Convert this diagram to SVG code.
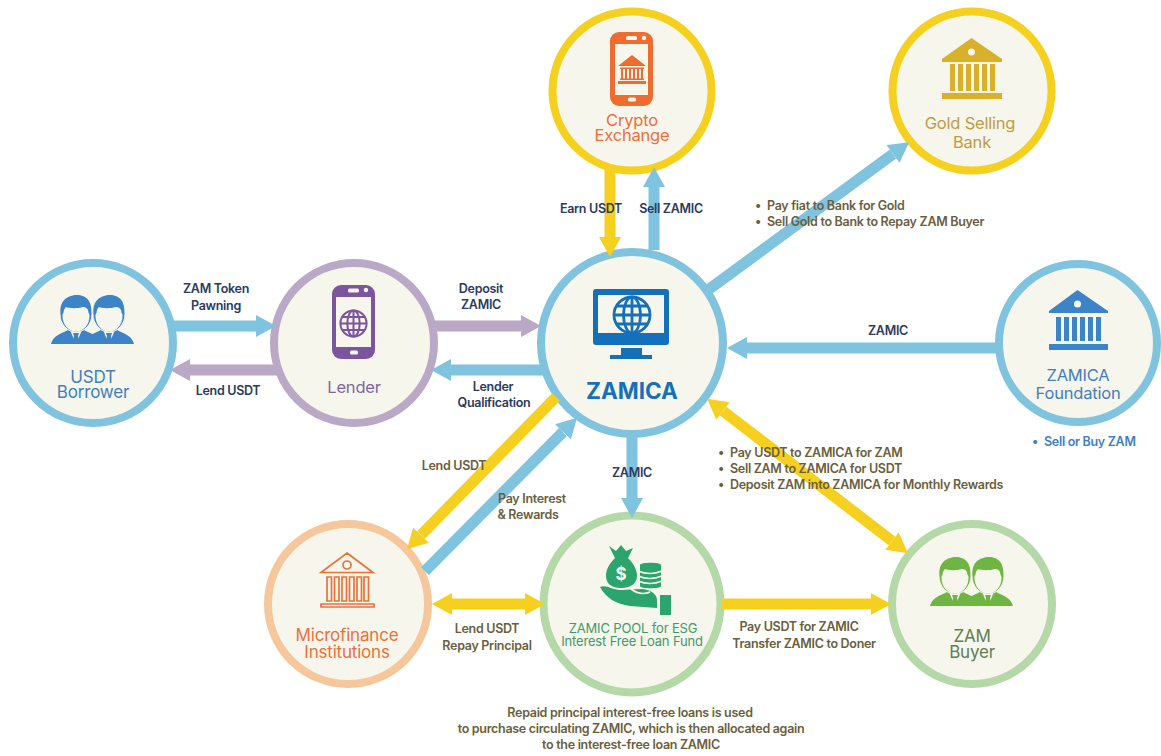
<svg xmlns="http://www.w3.org/2000/svg" width="1161" height="756" viewBox="0 0 1161 756">
<style>
text{font-family:Inter,"Noto Sans","Liberation Sans",sans-serif;text-anchor:middle}
.ring{fill:#F7F6EC;stroke-width:8}
.n{font-size:16.500px;letter-spacing:-.2px}
.l{font-size:12.500px;font-weight:600;letter-spacing:-.3px}
.navy{fill:#2A3A5F}
.ol{fill:#6A5E3C}
.st{text-anchor:start}
.c{fill:none;stroke-width:11}
.b{stroke:#7FC3DE}.y{stroke:#F5D01E}.p{stroke:#B9A8C6}
</style>
<defs>
<marker id="hb" markerUnits="userSpaceOnUse" markerWidth="20" markerHeight="22" viewBox="0 0 20 22" refX="0" refY="11" orient="auto-start-reverse"><path d="M0 0L20 11L0 22Z" fill="#7FC3DE"/></marker>
<marker id="hy" markerUnits="userSpaceOnUse" markerWidth="20" markerHeight="22" viewBox="0 0 20 22" refX="0" refY="11" orient="auto-start-reverse"><path d="M0 0L20 11L0 22Z" fill="#F5D01E"/></marker>
<marker id="hp" markerUnits="userSpaceOnUse" markerWidth="20" markerHeight="22" viewBox="0 0 20 22" refX="0" refY="11" orient="auto-start-reverse"><path d="M0 0L20 11L0 22Z" fill="#B9A8C6"/></marker>
<symbol id="person" overflow="visible" viewBox="-25 0 50 50" width="50" height="50">
<path d="M-25 49C-23 41-16 39-8 35L0 38L8 35C16 39 23 41 25 49Z" fill="currentColor"/>
<path d="M-6 35L0 49L6 35Z" fill="#F7F6EC"/>
<path d="M-3 38H3L2 41L3.500 49H-3.500L-2 41Z" fill="currentColor"/>
<ellipse cx="0" cy="19" rx="16" ry="18" fill="currentColor" stroke="#F7F6EC" stroke-width="1"/>
<ellipse cx="0" cy="21" rx="13.500" ry="15.500" fill="#F7F6EC"/>
<path d="M-15 20C-18 6-8 0 1 0C10 0 17 6 15 20L12.500 18C12.500 14 10 12 7 12C0 14-8 13-10 12C-12 14-12.500 16-12.500 18Z" fill="currentColor"/>
</symbol>
<symbol id="globe" overflow="visible" viewBox="-20 -20 40 40" width="40" height="40">
<g fill="none" stroke="currentColor" stroke-width="2.800"><circle r="18"/><ellipse rx="8.500" ry="18"/><path d="M0-18V18M-18 0H18M-15.500-9H15.500M-15.500 9H15.500"/></g>
</symbol>
</defs>
<rect width="1161" height="756" fill="#fff"/>

<g id="node-crypto-exchange">
<circle class="ring" cx="632" cy="91" r="79.500" stroke="#F5D01E"/>
<rect x="610" y="32" width="43" height="74" rx="9" fill="#EE6C2F"/>
<rect x="615" y="44" width="33" height="51" fill="#F7F6EC"/>
<rect x="626" y="36" width="11" height="4" rx="1.500" fill="#F7F6EC"/><circle cx="644" cy="38" r="2.200" fill="#F7F6EC"/><rect x="628" y="97.500" width="8" height="4" rx="1.500" fill="#F7F6EC"/>
<path d="M632 55L646 66H618ZM618 81H646V84H618ZM620 67.500H644V69H620ZM620 78.500H644V80H620ZM621 69h2v10H621ZM625 69h2v10H625ZM629 69h2v10H629ZM633 69h2v10H633ZM637 69h2v10H637ZM641 69h2v10H641Z" fill="#EE6C2F"/>
<text class="n" x="632" y="126" fill="#EC6F3A">Crypto</text><text class="n" x="632" y="141" fill="#EC6F3A">Exchange</text>
</g>

<g id="node-gold-bank">
<circle class="ring" cx="972" cy="91" r="79.500" stroke="#F5D01E"/>
<path d="M971.500 38L1002 59V62H942V59ZM950 64h5v27h-5ZM958 64h5v27h-5ZM966 64h5v27h-5ZM974 64h5v27h-5ZM982 64h5v27h-5ZM990 64h5v27h-5ZM942 93h60v6h-60Z" fill="#D9B02A"/>
<circle cx="971.500" cy="52" r="3.500" fill="#F7F6EC"/>
<text class="n" x="970" y="129" fill="#BE9C46">Gold Selling</text><text class="n" x="972" y="148" fill="#BE9C46">Bank</text>
</g>

<g id="node-zamica-foundation">
<circle class="ring" cx="1078" cy="343" r="79" stroke="#7FC3DE"/>
<path d="M1077.500 290L1108 311V313H1049V311ZM1056 317h5v24h-5ZM1064 317h5v24h-5ZM1072 317h5v24h-5ZM1080 317h5v24h-5ZM1088 317h5v24h-5ZM1096 317h5v24h-5ZM1049 344h59v6h-59Z" fill="#3C84C7"/>
<circle cx="1077.500" cy="304" r="3.500" fill="#F7F6EC"/>
<text class="n" x="1078" y="381" fill="#3F7FBF">ZAMICA</text><text class="n" x="1078" y="399" fill="#3F7FBF">Foundation</text>
</g>

<g id="node-zamica">
<circle class="ring" cx="632" cy="343" r="91" stroke="#7FC3DE"/>
<path d="M596 289H666A3 3 0 0 1 669 292V342A3 3 0 0 1 666 345H596A3 3 0 0 1 593 342V292A3 3 0 0 1 596 289ZM598 295V333H664V295ZM621 348H642V355H652V359H610V355H621Z" fill="#1470BB" fill-rule="evenodd"/>
<use href="#globe" x="612" y="295" color="#1470BB"/>
<text x="632" y="399" font-size="22.500" font-weight="700" fill="#1470BB">ZAMICA</text>
</g>

<g id="node-usdt-borrower">
<circle class="ring" cx="93" cy="343" r="80" stroke="#7FC3DE"/>
<use href="#person" x="51" y="295" color="#3C84C7"/><use href="#person" x="84" y="295" color="#3C84C7"/>
<text class="n" x="93" y="383" fill="#3F7FBF" style="font-size:17px">USDT</text><text class="n" x="93" y="398" fill="#3F7FBF" style="font-size:17px">Borrower</text>
</g>

<g id="node-lender">
<circle class="ring" cx="354" cy="343" r="80" stroke="#B9A8C6"/>
<rect x="332" y="285" width="43" height="74" rx="9" fill="#7B559E"/>
<rect x="336" y="297" width="35" height="50" fill="#F7F6EC"/>
<rect x="348" y="288.500" width="11" height="4" rx="1.500" fill="#F7F6EC"/><circle cx="366" cy="290" r="2.200" fill="#F7F6EC"/><rect x="350" y="350.500" width="8" height="4" rx="1.500" fill="#F7F6EC"/>
<use href="#globe" x="339" y="309" width="29" height="29" color="#7B559E"/>
<text class="n" x="354" y="393" fill="#7F66A0">Lender</text>
</g>

<g id="node-microfinance">
<circle class="ring" cx="348" cy="604" r="80" stroke="#F6C79B"/>
<g fill="none" stroke="#E8733A" stroke-width="1.700">
<path d="M347 553L373 572.500H321ZM327 577h4.500v24h-4.500ZM334.500 577h4.500v24h-4.500ZM342 577h4.500v24h-4.500ZM349.500 577h4.500v24h-4.500ZM357 577h4.500v24h-4.500ZM364 577h4.500v24h-4.500ZM321 604h53v3h-53Z"/><circle cx="347" cy="565" r="4"/>
</g>
<text class="n" x="347" y="641" fill="#EC6F3A" style="font-size:17px">Microfinance</text><text class="n" x="347" y="658" fill="#EC6F3A" style="font-size:17px">Institutions</text>
</g>

<g id="node-zamic-pool">
<circle class="ring" cx="632" cy="604" r="88.500" stroke="#B4D8A8"/>
<g fill="#2BA56D">
<path d="M609 546L616 551L621 545L626 551L633 548L628 558C634 564 637 570 637 576C637 584 630 588 621 588C612 588 606 584 606 576C606 569 610 563 615 558Z"/>
<path d="M640 565C640 562 661 562 661 565V586C661 589 640 589 640 586Z"/>
<path d="M600 587C606 584 612 590 622 590L641 589C650 589 657 594 657 600V608L630 606C616 604 606 598 600 587ZM660 595h11v20h-11Z"/>
</g>
<g fill="none" stroke="#F7F6EC" stroke-width="1.600"><path d="M638 571Q650 576 662 571M638 576Q650 581 662 576M638 581Q650 586 662 581M631 589Q640 596 650 592"/></g>
<text x="621" y="580" font-size="17" font-weight="700" fill="#F7F6EC">$</text>
<g font-size="13" letter-spacing="-.15" fill="#3E9A6B"><text x="633" y="633">ZAMIC POOL for ESG</text><text x="632" y="646">Interest Free Loan Fund</text></g>
</g>

<g id="node-zam-buyer">
<circle class="ring" cx="972" cy="604" r="80" stroke="#B4D8A8"/>
<use href="#person" x="930" y="557" color="#6FB543"/><use href="#person" x="963" y="557" color="#6FB543"/>
<text class="n" x="972" y="642" fill="#5E7F55" style="font-size:17px">ZAM</text><text class="n" x="972" y="658" fill="#5E7F55" style="font-size:17px">Buyer</text>
</g>

<g id="connectors">
<line class="c y" x1="610" y1="170" x2="610" y2="237" marker-end="url(#hy)"/>
<line class="c b" x1="654" y1="250" x2="654" y2="187" marker-end="url(#hb)"/>
<line class="c b" x1="708" y1="290" x2="893" y2="154" marker-end="url(#hb)"/>
<line class="c b" x1="998" y1="348" x2="747" y2="348" marker-end="url(#hb)"/>
<line class="c b" x1="172" y1="326" x2="256" y2="326" marker-end="url(#hb)"/>
<line class="c p" x1="280" y1="370" x2="190" y2="370" marker-end="url(#hp)"/>
<line class="c p" x1="434" y1="326" x2="521" y2="326" marker-end="url(#hp)"/>
<line class="c b" x1="545" y1="370" x2="451" y2="370" marker-end="url(#hb)"/>
<line class="c y" x1="556" y1="397" x2="421" y2="535" marker-end="url(#hy)"/>
<line class="c b" x1="425" y1="571" x2="563" y2="432" marker-end="url(#hb)"/>
<line class="c b" x1="632" y1="435" x2="632" y2="498" marker-end="url(#hb)"/>
<line class="c y" x1="452" y1="604" x2="525" y2="604" marker-start="url(#hy)" marker-end="url(#hy)"/>
<line class="c y" x1="722" y1="604" x2="871" y2="604" marker-end="url(#hy)"/>
<line class="c y" x1="723" y1="411" x2="892" y2="541" marker-start="url(#hy)" marker-end="url(#hy)"/>
</g>

<g id="labels">
<text class="l navy" x="591" y="213">Earn USDT</text>
<text class="l navy" x="671" y="213">Sell ZAMIC</text>
<text class="l navy" x="216" y="293">ZAM Token</text><text class="l navy" x="216" y="310">Pawning</text>
<text class="l navy" x="228" y="395">Lend USDT</text>
<text class="l navy" x="481" y="293">Deposit</text><text class="l navy" x="481" y="309">ZAMIC</text>
<text class="l navy" x="493" y="391">Lender</text><text class="l navy" x="494" y="407">Qualification</text>
<text class="l navy" x="888" y="335">ZAMIC</text>
<text class="l navy" x="632" y="477">ZAMIC</text>
<text class="l ol" x="454" y="470">Lend USDT</text>
<text class="l ol" x="532" y="503">Pay Interest</text><text class="l ol" x="528" y="519">&amp; Rewards</text>
<text class="l ol" x="487" y="633">Lend USDT</text><text class="l ol" x="487" y="650">Repay Principal</text>
<text class="l ol" x="799" y="631">Pay USDT for ZAMIC</text><text class="l ol" x="804" y="648">Transfer ZAMIC to Doner</text>
<text class="l ol" x="630" y="717">Repaid principal interest-free loans is used</text>
<text class="l ol" x="631" y="733">to purchase circulating ZAMIC, which is then allocated again</text>
<text class="l ol" x="631" y="749">to the interest-free loan ZAMIC</text>
<text class="l ol st" x="755" y="210">•</text><text class="l ol st" x="767" y="210">Pay fiat to Bank for Gold</text>
<text class="l ol st" x="755" y="226">•</text><text class="l ol st" x="767" y="226">Sell Gold to Bank to Repay ZAM Buyer</text>
<text class="l ol st" x="718" y="457">•</text><text class="l ol st" x="730" y="457">Pay USDT to ZAMICA for ZAM</text>
<text class="l ol st" x="718" y="473">•</text><text class="l ol st" x="730" y="473">Sell ZAM to ZAMICA for USDT</text>
<text class="l ol st" x="718" y="489">•</text><text class="l ol st" x="730" y="489">Deposit ZAM into ZAMICA for Monthly Rewards</text>
<text class="l st" x="1032" y="446" fill="#3F7FBF">•</text><text class="l st" x="1044" y="446" fill="#3F7FBF">Sell or Buy ZAM</text>
</g>
</svg>
